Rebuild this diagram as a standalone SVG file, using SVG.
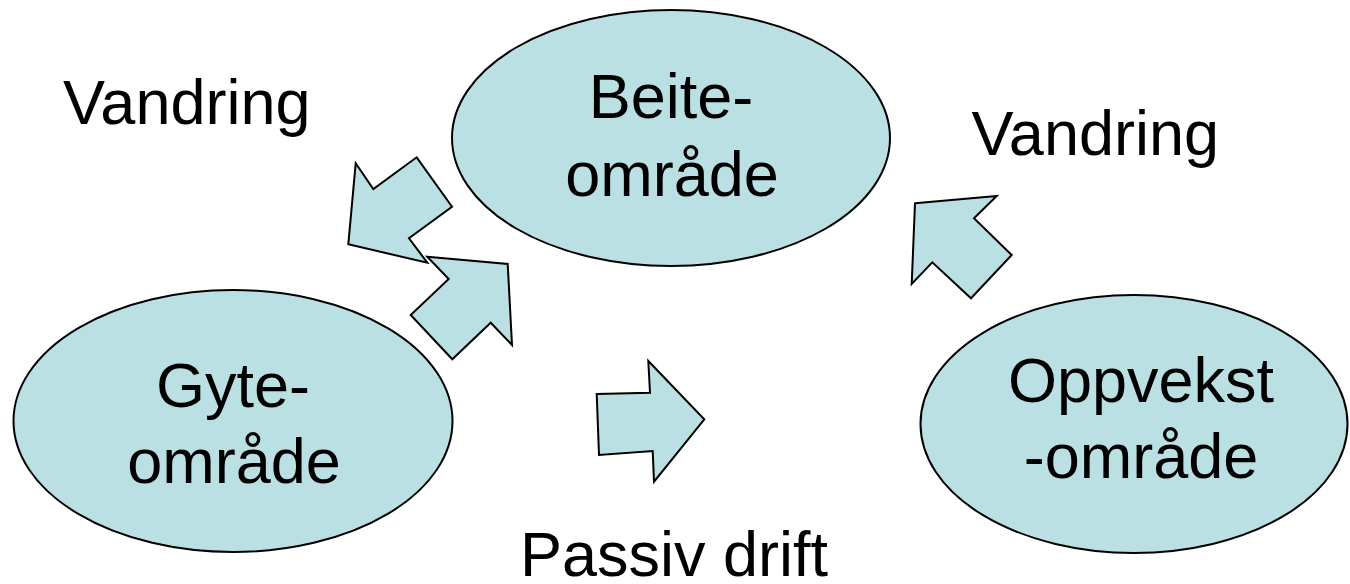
<svg xmlns="http://www.w3.org/2000/svg" width="1350" height="584" viewBox="0 0 1350 584">
<style>
.node{fill:#BBE0E3;stroke:#000;stroke-width:2}
.arrow{fill:#BBE0E3;stroke:#000;stroke-width:2;stroke-linejoin:miter}
text{font-family:"Liberation Sans",Arial,sans-serif;font-size:63px;fill:#000}
.c{text-anchor:middle}
</style>
<rect width="1350" height="584" fill="#fff"/>
<g id="connectors">
<polygon id="arrow-beite-to-left" class="arrow" points="355.7,163.3 373.3,189 416.7,157.3 452,206.7 409,238.3 427.3,262.7 348.3,244.3"/>
<polygon id="arrow-gyte-to-beite" class="arrow" points="427.3,256.7 507.7,264 512,345 490.7,322.7 452.3,359.3 410.7,315 448.7,279"/>
<polygon id="arrow-passiv-drift" class="arrow" points="596.7,394 650,392.7 648.3,361 704.3,419.3 654,481.7 652.7,451 599,455"/>
<polygon id="arrow-oppvekst-to-beite" class="arrow" points="915,203.3 996.7,196 974,218.3 1011.7,255 971,298.3 932.3,262.3 911.7,284"/>
</g>
<g id="node-beite">
<ellipse class="node" cx="671" cy="138" rx="219" ry="128"/>
<text class="c" x="671" y="118">Beite-</text>
<text class="c" x="672" y="195.5">område</text>
</g>
<g id="node-gyte">
<ellipse class="node" cx="233" cy="421" rx="219.5" ry="131"/>
<text class="c" x="233" y="407">Gyte-</text>
<text class="c" x="234" y="483">område</text>
</g>
<g id="node-oppvekst">
<ellipse class="node" cx="1134" cy="424" rx="213.5" ry="129"/>
<text class="c" x="1141" y="401.5">Oppvekst</text>
<text class="c" x="1141" y="478">-område</text>
</g>
<g id="labels">
<text x="63" y="124.3">Vandring</text>
<text x="971.5" y="155">Vandring</text>
<text x="520" y="576">Passiv drift</text>
</g>
</svg>
